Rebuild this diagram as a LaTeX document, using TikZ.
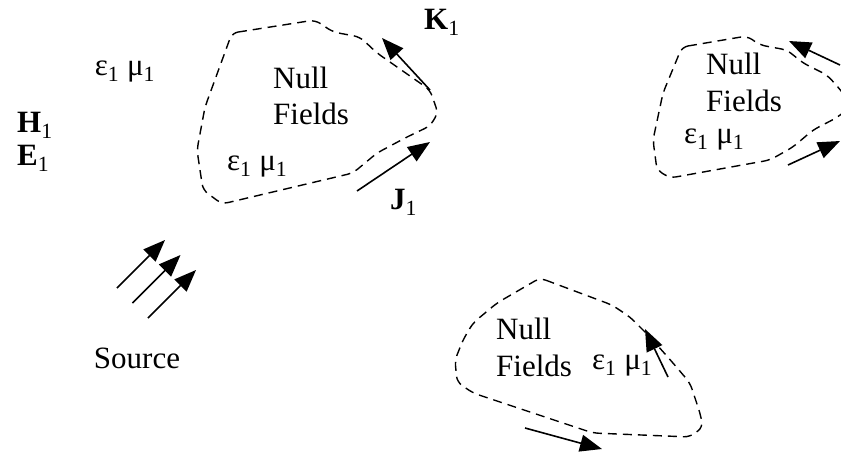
\documentclass[tikz,border=0pt]{standalone}
\usepackage{fontspec}
\setmainfont{Liberation Serif}
\usetikzlibrary{arrows.meta}

\begin{document}
\begin{tikzpicture}[x=1pt,y=-1pt,
  blob/.style={dash pattern=on 9pt off 6pt,line width=1.4pt,rounded corners=6pt},
  cur/.style={-{Triangle[length=22pt,width=17pt]},line width=1.6pt},
  lbl/.style={font=\fontsize{31}{36}\selectfont,inner sep=0pt}]
\clip (0,0) rectangle (841,455);

% upper left region
\draw[blob] (232,33) -- (315,20) -- (333,32) -- (360,37) -- (377,53) -- (430,90)
  -- (438,113) -- (430,126) -- (407,137) -- (377,153) -- (353,173) -- (222,204)
  -- (203,190) -- (197,150) -- (205,107) -- cycle;
\node[lbl,anchor=west] (null1) at (273,78) {Null};
\node[lbl,anchor=west] (fields1) at (273,114) {Fields};
\node[lbl,anchor=west] (em1) at (227,167) {ε\textsubscript{1} μ\textsubscript{1}};
\coordinate (k1a) at (430,90);
\coordinate (k1b) at (382,38);
\draw[cur] (k1a) -- (k1b);
\node[lbl,anchor=west] (klab) at (424,22) {\textbf{K}\textsubscript{1}};
\coordinate (j1a) at (357,191);
\coordinate (j1b) at (430,142);
\draw[cur] (j1a) -- (j1b);
\node[lbl,anchor=west] (jlab) at (390,202) {\textbf{J}\textsubscript{1}};

% upper right region
\draw[blob] (682,47) -- (747,36) -- (760,45) -- (787,50) -- (803,63) -- (827,75)
  -- (838,87) -- (852,105) -- (838,117) -- (813,130) -- (793,147) -- (770,160)
  -- (670,178) -- (657,170) -- (653,140) -- (663,93) -- cycle;
\node[lbl,anchor=west] (null2) at (706,64) {Null};
\node[lbl,anchor=west] (fields2) at (706,101) {Fields};
\node[lbl,anchor=west] (em2) at (684,140) {ε\textsubscript{1} μ\textsubscript{1}};
\coordinate (k2a) at (840,65);
\coordinate (k2b) at (789,41);
\draw[cur] (k2a) -- (k2b);
\coordinate (j2a) at (788,165);
\coordinate (j2b) at (840,141);
\draw[cur] (j2a) -- (j2b);

% lower region
\draw[blob] (540,278) -- (612,305) -- (630,317) -- (650,337) -- (673,363) -- (690,383)
  -- (700,413) -- (703,427) -- (690,437) -- (593,433) -- (473,393) -- (457,382)
  -- (455,360) -- (463,340) -- (473,323) -- (497,303) -- cycle;
\node[lbl,anchor=west] (null3) at (496,329) {Null};
\node[lbl,anchor=west] (fields3) at (496,366) {Fields};
\node[lbl,anchor=west] (em3) at (592,366) {ε\textsubscript{1} μ\textsubscript{1}};
\coordinate (k3a) at (668,377);
\coordinate (k3b) at (645,329);
\draw[cur] (k3a) -- (k3b);
\coordinate (j3a) at (525,428);
\coordinate (j3b) at (602,449);
\draw[cur] (j3a) -- (j3b);

% outside
\node[lbl] (em0) at (125,72) {ε\textsubscript{1} μ\textsubscript{1}};
\node[lbl,anchor=west] (hlab) at (17,125) {\textbf{H}\textsubscript{1}};
\node[lbl,anchor=west] (elab) at (17,158) {\textbf{E}\textsubscript{1}};
\foreach \i in {0,1,2} {
  \coordinate (s\i a) at (117+15.5*\i,288+15*\i);
  \coordinate (s\i b) at (165+15.5*\i,240+15*\i);
  \draw[cur] (s\i a) -- (s\i b);
}
\node[lbl] (src) at (137,358) {Source};
\end{tikzpicture}
\end{document}
